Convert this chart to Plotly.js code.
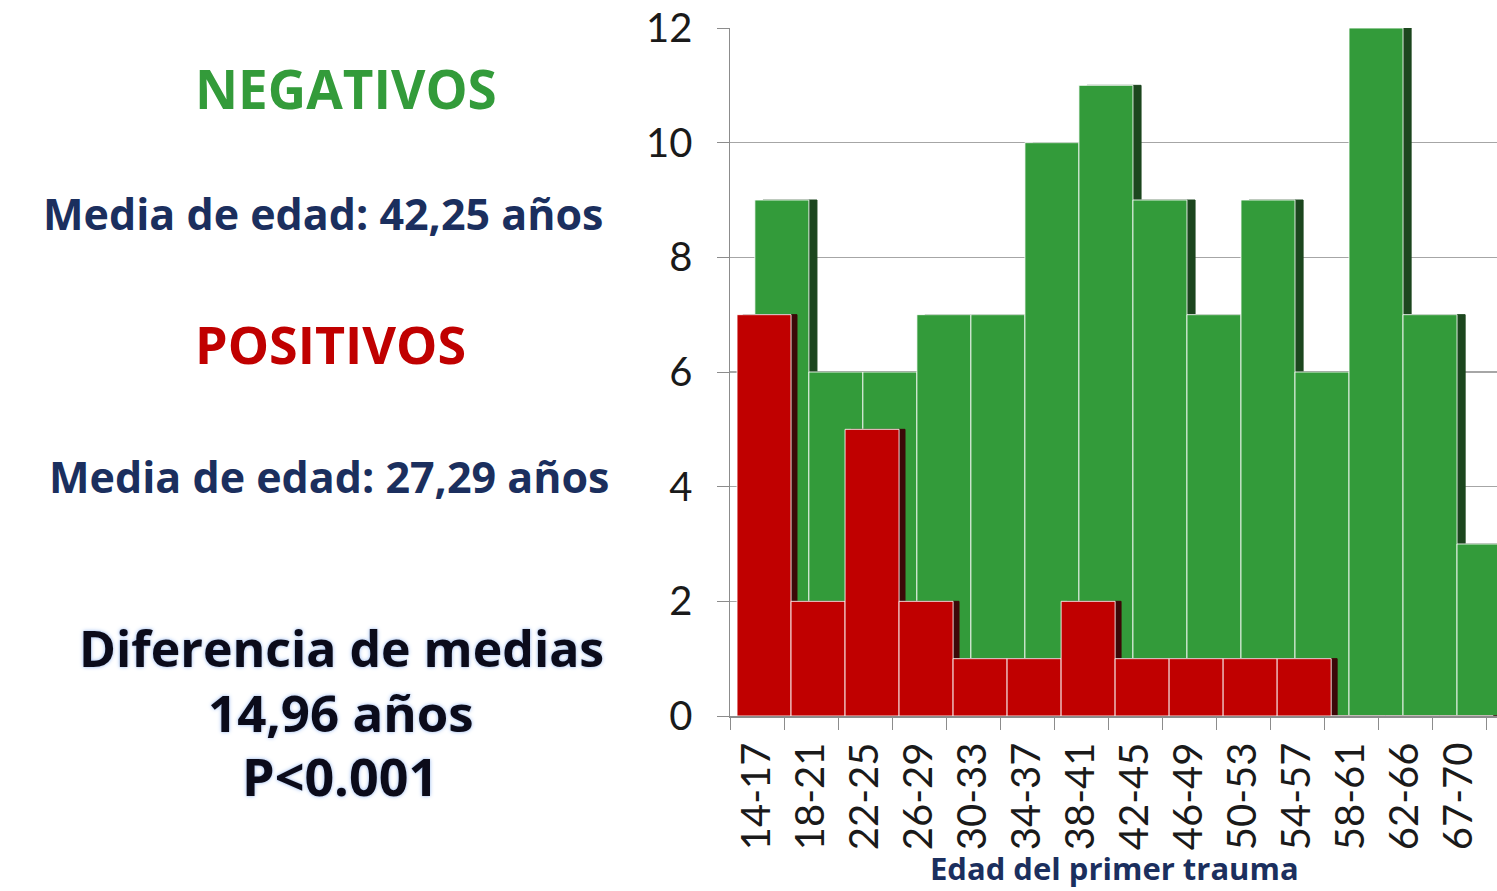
<!DOCTYPE html>
<html>
<head>
<meta charset="utf-8">
<script src="https://cdn.plot.ly/plotly-3.0.1.min.js"></script>
<style>
  html, body { margin: 0; padding: 0; background: #fff; overflow: hidden; }
  #myPlot { width: 1497px; height: 891px; }
</style>
</head>
<body>
<div id="myPlot"></div>
<script>
// age groups (first trauma) and counts
const ageGroups = ['14-17', '18-21', '22-25', '26-29', '30-33', '34-37', '38-41',
                   '42-45', '46-49', '50-53', '54-57', '58-61', '62-66', '67-70'];
const negativos = [9, 6, 6, 7, 7, 10, 11, 9, 7, 9, 6, 12, 7, 3];
const positivos = [7, 2, 5, 2, 1, 1, 2, 1, 1, 1, 1, 0, 0, 0];
const yTicks = [0, 2, 4, 6, 8, 10, 12];

const green = 'rgb(51, 155, 58)';
const greenShadow = 'rgb(28, 70, 30)';
const red = 'rgb(192, 0, 0)';
const redShadow = 'rgb(60, 8, 8)';
const navy = '#1b2f5e';
const tickFont = 'Lato, "Open Sans", sans-serif';
const boldFont = '"Open Sans", Lato, sans-serif';

// plot box in pixels, used to place the side texts
const plotL = 730, plotR = 1497, plotT = 28, plotB = 716;
const px = x => (x - plotL) / (plotR - plotL);
const py = y => (plotB - y) / (plotB - plotT);

function bars(y, color, offset, name, edge) {
  return {
    type: 'bar',
    x: ageGroups,
    y: y,
    name: name,
    width: 1,
    offset: offset,
    marker: {color: color, line: {color: edge || color, width: 1}},
    hoverinfo: 'x+y'
  };
}

const data = [
  bars(negativos, greenShadow, 0.11, 'shadow'),
  bars(negativos, green, -0.04, 'Negativos', 'rgba(255,255,255,0.85)'),
  bars(positivos, redShadow, -0.26, 'shadow'),
  bars(positivos, red, -0.37, 'Positivos', 'rgba(255,255,255,0.85)')
];

const sideText = [
  {text: 'NEGATIVOS', x: 346, y: 88, size: 53, color: green},
  {text: 'Media de edad: 42,25 años', x: 323, y: 213, size: 43, color: navy},
  {text: 'POSITIVOS', x: 331, y: 343, size: 52, color: red},
  {text: 'Media de edad: 27,29 años', x: 329, y: 477, size: 43, color: navy},
  {text: 'Diferencia de medias', x: 341, y: 648, size: 50, color: '#0b0b1a', glow: true},
  {text: '14,96 años', x: 341, y: 712, size: 51, color: '#0b0b1a', glow: true},
  {text: 'P<0.001', x: 340, y: 775, size: 52, color: '#0b0b1a', glow: true},
  // x axis title
  {text: 'Edad del primer trauma', x: 1114, y: 868, size: 31, color: navy}
];

const layout = {
  width: 1497,
  height: 891,
  margin: {l: plotL, r: 0, t: plotT, b: 891 - plotB},
  paper_bgcolor: '#fff',
  plot_bgcolor: '#fff',
  barmode: 'overlay',
  showlegend: false,
  font: {family: tickFont, color: '#1a1a1a'},
  xaxis: {
    type: 'category',
    range: [-0.5, 13.7],
    tickson: 'boundaries',
    ticks: 'outside',
    ticklen: 12,
    tickcolor: '#8c8c8c',
    tickangle: -90,
    ticklabelstandoff: 9,
    tickfont: {size: 40, family: tickFont, color: '#1a1a1a'},
    showline: true,
    linecolor: '#8c8c8c',
    linewidth: 1.5,
    showgrid: false
  },
  yaxis: {
    range: [0, 12],
    tickvals: yTicks,
    ticks: 'outside',
    ticklen: 12,
    tickcolor: '#8c8c8c',
    ticklabelstandoff: 16,
    tickfont: {size: 40, family: tickFont, color: '#1a1a1a'},
    showline: true,
    linecolor: '#8c8c8c',
    linewidth: 1.5,
    gridcolor: '#a6a6a6',
    gridwidth: 1.5,
    zeroline: false
  },
  annotations: sideText.map(t => ({
    xref: 'paper', yref: 'paper',
    x: px(t.x), y: py(t.y),
    xanchor: 'center', yanchor: 'middle',
    text: t.text,
    showarrow: false,
    font: {size: t.size, family: boldFont, color: t.color, weight: 'bold',
           shadow: t.glow ? '0 0 4px #a9c4f0, 0 0 2px #c8dafa' : 'none'}
  }))
};

Plotly.newPlot('myPlot', data, layout, {displayModeBar: false, staticPlot: true});
</script>
</body>
</html>
